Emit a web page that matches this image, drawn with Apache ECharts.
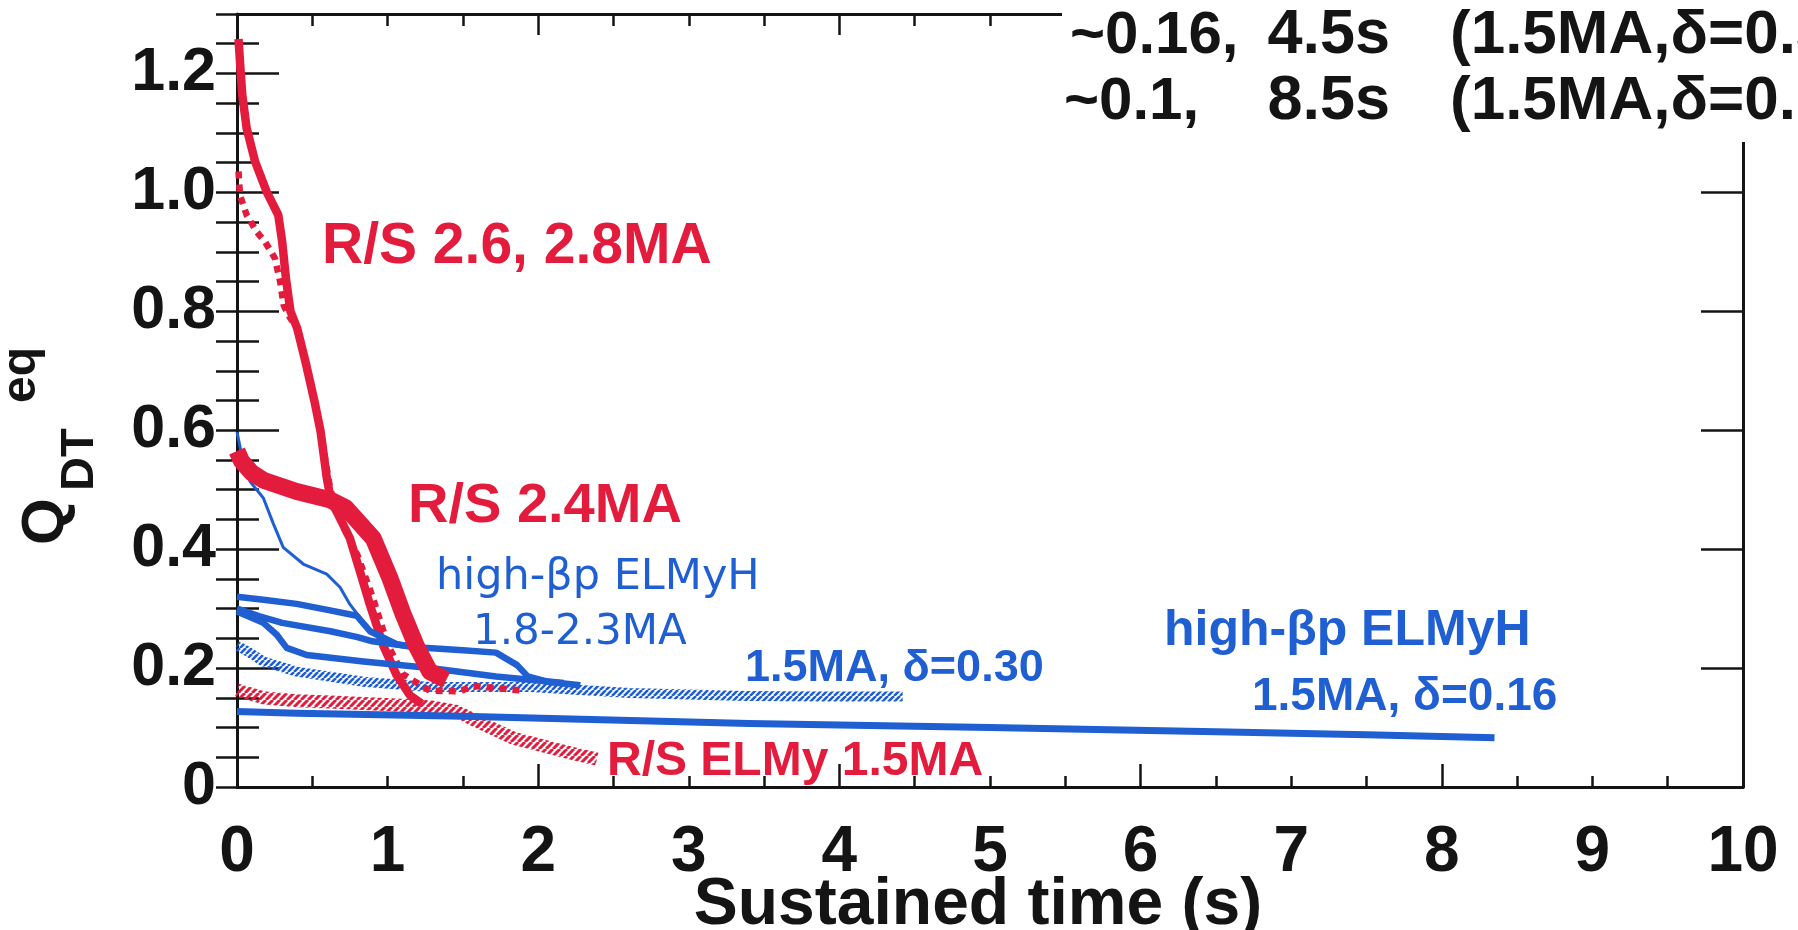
<!DOCTYPE html>
<html>
<head>
<meta charset="utf-8">
<script src="https://cdn.jsdelivr.net/npm/echarts@6/dist/echarts.min.js"></script>
<style>
  html, body { margin: 0; padding: 0; background: #ffffff; }
  #chart { width: 1798px; height: 930px; }
</style>
</head>
<body>
<div id="chart"></div>
<script>
// Equivalent fusion gain Q_DT^eq against the time it was sustained.

const xTickValues = [0, 1, 2, 3, 4, 5, 6, 7, 8, 9, 10];
const xTickLabels = ['0', '1', '2', '3', '4', '5', '6', '7', '8', '9', '10'];
const yTickValues = [0, 0.2, 0.4, 0.6, 0.8, 1.0, 1.2];
const yTickLabels = ['0', '0.2', '0.4', '0.6', '0.8', '1.0', '1.2'];

// reversed shear, 2.6 / 2.8 MA (solid)
const rs2628Solid = [[0.01, 1.258], [0.025, 1.20], [0.035, 1.164], [0.064, 1.108], [0.12, 1.052],
  [0.197, 1.001], [0.274, 0.962], [0.30, 0.917], [0.325, 0.855], [0.355, 0.80], [0.40, 0.771],
  [0.455, 0.715], [0.515, 0.648], [0.555, 0.598], [0.596, 0.52], [0.625, 0.48], [0.662, 0.463],
  [0.75, 0.418], [0.817, 0.362], [0.883, 0.306], [0.971, 0.238], [1.06, 0.188], [1.149, 0.154],
  [1.226, 0.140]];
// reversed shear, 2.6 MA (dotted)
const rs26Dotted = [[0.01, 1.035], [0.02, 0.995], [0.064, 0.962], [0.13, 0.934], [0.186, 0.917],
  [0.252, 0.889], [0.286, 0.85], [0.31, 0.81], [0.35, 0.79], [0.40, 0.771], [0.455, 0.715],
  [0.515, 0.648], [0.56, 0.59], [0.62, 0.50], [0.70, 0.44], [0.80, 0.39], [0.90, 0.32],
  [1.00, 0.24], [1.10, 0.19], [1.28, 0.162], [1.48, 0.161], [1.57, 0.17], [1.90, 0.162]];
// reversed shear, 2.4 MA
const rs24 = [[0.0, 0.565], [0.03, 0.548], [0.10, 0.528], [0.175, 0.516], [0.396, 0.497],
  [0.618, 0.483], [0.72, 0.47], [0.795, 0.449], [0.905, 0.418], [1.016, 0.351], [1.104, 0.29],
  [1.193, 0.236], [1.28, 0.194], [1.39, 0.18]];
// reversed shear ELMy, 1.5 MA (hatched)
const rsElmy15 = [[0.0, 0.163], [0.175, 0.15], [0.396, 0.145], [0.618, 0.143], [1.06, 0.138],
  [1.28, 0.135], [1.46, 0.127], [1.547, 0.116], [1.836, 0.082], [2.17, 0.06], [2.39, 0.047]];

// high-βp ELMy H-mode, 1.8-2.3 MA
const hbThin = [[0.0, 0.597], [0.03, 0.56], [0.086, 0.514], [0.175, 0.486], [0.241, 0.443],
  [0.307, 0.403], [0.44, 0.375], [0.596, 0.358], [0.684, 0.336], [0.75, 0.307], [0.817, 0.285],
  [0.883, 0.262], [0.95, 0.25]];
const hbThickA = [[0.0, 0.32], [0.175, 0.315], [0.396, 0.308], [0.618, 0.297], [0.795, 0.288],
  [0.883, 0.262], [1.06, 0.24], [1.19, 0.235], [1.50, 0.23], [1.72, 0.226], [1.86, 0.205],
  [1.93, 0.186], [2.06, 0.177], [2.28, 0.171]];
const hbThickB = [[0.0, 0.30], [0.15, 0.287], [0.30, 0.276], [0.62, 0.262], [0.80, 0.252],
  [0.90, 0.245], [1.19, 0.235]];
const hbThickC = [[0.0, 0.295], [0.175, 0.276], [0.264, 0.256], [0.33, 0.234], [0.463, 0.222],
  [0.84, 0.211], [1.28, 0.20], [1.72, 0.186], [2.17, 0.175]];
// high-βp ELMy H-mode, 1.5 MA, δ=0.30 (hatched)
const hb15d030 = [[0.0, 0.238], [0.09, 0.225], [0.175, 0.211], [0.396, 0.194], [0.84, 0.177],
  [1.28, 0.168], [1.946, 0.168], [2.61, 0.158], [3.38, 0.153], [3.9, 0.152], [4.42, 0.152]];
// high-βp ELMy H-mode, 1.5 MA, δ=0.16
const hb15d016 = [[0.0, 0.127], [0.4, 0.124], [1.5, 0.119], [3.4, 0.107], [5.0, 0.100],
  [6.5, 0.093], [7.5, 0.088], [8.35, 0.083]];

const RED = '#e31c3d';
const BLUE = '#1f5fd2';
const INK = '#141414';
const FONT = '"Liberation Sans", Arial, Helvetica, sans-serif';

function hatch(color, size, width) {
  const c = document.createElement('canvas');
  c.width = size; c.height = size;
  const g = c.getContext('2d');
  g.strokeStyle = color;
  g.lineWidth = width;
  g.beginPath();
  for (let k = -1; k <= 1; k++) {
    g.moveTo(k * size, size);
    g.lineTo(k * size + size, 0);
  }
  g.stroke();
  return { image: c, repeat: 'repeat' };
}

function line(data, color, width, extra) {
  return Object.assign({
    type: 'line', data: data, showSymbol: false, symbol: 'none', clip: false,
    animation: false, silent: true,
    lineStyle: { color: color, width: width, cap: 'butt', join: 'round' }
  }, extra || {});
}

function label(text, x, y, size, color, weight, family, align) {
  return {
    type: 'text', x: x, y: y, z: 50,
    style: {
      text: text, fill: color, align: align || 'left', verticalAlign: 'middle',
      font: (weight || 'bold') + ' ' + size + 'px ' + (family || FONT)
    }
  };
}

function yFmt(v) {
  for (let i = 0; i < yTickValues.length; i++) {
    if (Math.abs(v - yTickValues[i]) < 1e-6) return yTickLabels[i];
  }
  return '';
}
function xFmt(v) {
  for (let i = 0; i < xTickValues.length; i++) {
    if (Math.abs(v - xTickValues[i]) < 1e-6) return xTickLabels[i];
  }
  return '';
}

const axisLine = { show: true, onZero: false, lineStyle: { color: INK, width: 3 } };
const tickLine = { color: INK, width: 2.5 };

const chart = echarts.init(document.getElementById('chart'), null, { renderer: 'canvas' });
chart.setOption({
  backgroundColor: '#ffffff',
  animation: false,
  grid: { left: 237, right: 55, top: 14, bottom: 143, containLabel: false, outerBoundsMode: 'none' },
  xAxis: [
    {
      type: 'value', min: 0, max: 10, interval: 1, position: 'bottom',
      axisLine: axisLine, axisTick: { show: false }, splitLine: { show: false },
      axisLabel: { fontSize: 64, fontWeight: 'bold', fontFamily: FONT, color: INK, margin: 34, formatter: xFmt }
    },
    {
      type: 'value', min: 0, max: 10, interval: 2, position: 'bottom',
      axisLine: { show: false }, splitLine: { show: false }, axisLabel: { show: false },
      axisTick: { show: true, inside: true, length: 23, lineStyle: tickLine },
      minorTick: { show: true, splitNumber: 4, length: 11, lineStyle: tickLine }
    },
    {
      type: 'value', min: 0, max: 10, interval: 2, position: 'top',
      axisLine: axisLine, splitLine: { show: false }, axisLabel: { show: false },
      axisTick: { show: true, inside: true, length: 21, lineStyle: tickLine },
      minorTick: { show: true, splitNumber: 4, length: 12, lineStyle: tickLine }
    }
  ],
  yAxis: [
    {
      type: 'value', min: 0, max: 1.3, interval: 0.2, position: 'left',
      axisLine: axisLine, splitLine: { show: false },
      axisTick: { show: true, inside: true, length: 42, lineStyle: tickLine },
      axisLabel: { fontSize: 61, fontWeight: 'bold', fontFamily: FONT, color: INK, margin: 21, formatter: yFmt }
    },
    {
      type: 'value', min: 0, max: 1.3, interval: 0.05, position: 'left',
      axisLine: { show: false }, splitLine: { show: false }, axisLabel: { show: false },
      axisTick: { show: true, inside: true, length: 22, lineStyle: tickLine }
    },
    {
      type: 'value', min: 0, max: 1.3, interval: 0.2, position: 'right',
      axisLine: axisLine, splitLine: { show: false }, axisLabel: { show: false },
      axisTick: { show: true, inside: true, length: 42, lineStyle: tickLine }
    },
    {
      type: 'value', min: 0, max: 1.3, interval: 0.05, position: 'right',
      axisLine: { show: false }, splitLine: { show: false }, axisLabel: { show: false },
      axisTick: { show: true, inside: true, length: 21, lineStyle: tickLine }
    }
  ],
  series: [
    line(rsElmy15, hatch(RED, 7, 3), 13),
    line(hb15d030, hatch(BLUE, 6, 2.6), 10),
    line(hb15d016, BLUE, 7),
    line(rs26Dotted, RED, 6, { lineStyle: { color: RED, width: 6.5, type: [7, 6], cap: 'butt' } }),
    line(rs2628Solid, RED, 8.5),
    line(hbThin, BLUE, 3),
    line(hbThickA, BLUE, 6.5),
    line(hbThickB, BLUE, 6.5),
    line(hbThickC, BLUE, 6.5),
    line(rs24, RED, 17)
  ],
  graphic: [
    // x axis title
    { type: 'text', x: 978, y: 906, z: 50,
      style: { text: 'Sustained time (s)', fill: INK, align: 'center', verticalAlign: 'middle', font: 'bold 66px ' + FONT } },

    // y axis title Q_DT^eq, read bottom to top; local x runs up the page, local y to the right
    {
      type: 'group', x: 66, y: 545, rotation: Math.PI / 2, z: 50,
      children: [
        { type: 'text', x: 0, y: -20, z: 50,
          style: { text: 'Q', fill: INK, align: 'left', verticalAlign: 'middle', font: 'bold 60px ' + FONT } },
        { type: 'text', x: 54, y: 14, z: 50,
          style: { text: 'DT', fill: INK, align: 'left', verticalAlign: 'middle', font: 'bold 47px ' + FONT } },
        { type: 'text', x: 142, y: -44, z: 50,
          style: { text: 'eq', fill: INK, align: 'left', verticalAlign: 'middle', font: 'bold 48px ' + FONT } }
      ]
    },

    // annotation block in the upper right, masking the frame behind it
    { type: 'rect', z: 40, shape: { x: 1062, y: 0, width: 736, height: 142 }, style: { fill: '#ffffff' } },
    label('~0.16,', 1070, 36, 60, INK),
    label('4.5s', 1390, 36, 63, INK, 'bold', FONT, 'right'),
    label('(1.5MA,δ=0.30)', 1450, 36, 62, INK),
    label('~0.1,', 1064, 102, 60, INK),
    label('8.5s', 1390, 102, 63, INK, 'bold', FONT, 'right'),
    label('(1.5MA,δ=0.16)', 1450, 102, 62, INK),

    // curve labels
    label('R/S 2.6, 2.8MA', 322, 247, 57, RED),
    label('R/S 2.4MA', 408, 507, 56, RED),
    label('high-βp ELMyH', 436, 578, 43, BLUE, 'normal', '"DejaVu Sans", sans-serif'),
    label('1.8-2.3MA', 473, 633, 42, BLUE, 'normal', '"DejaVu Sans", sans-serif'),
    label('1.5MA, δ=0.30', 745, 669, 45, BLUE),
    label('high-βp ELMyH', 1164, 631, 50, BLUE),
    label('1.5MA, δ=0.16', 1252, 697, 46, BLUE),
    label('R/S ELMy 1.5MA', 607, 762, 48, RED)
  ]
});
</script>
</body>
</html>
